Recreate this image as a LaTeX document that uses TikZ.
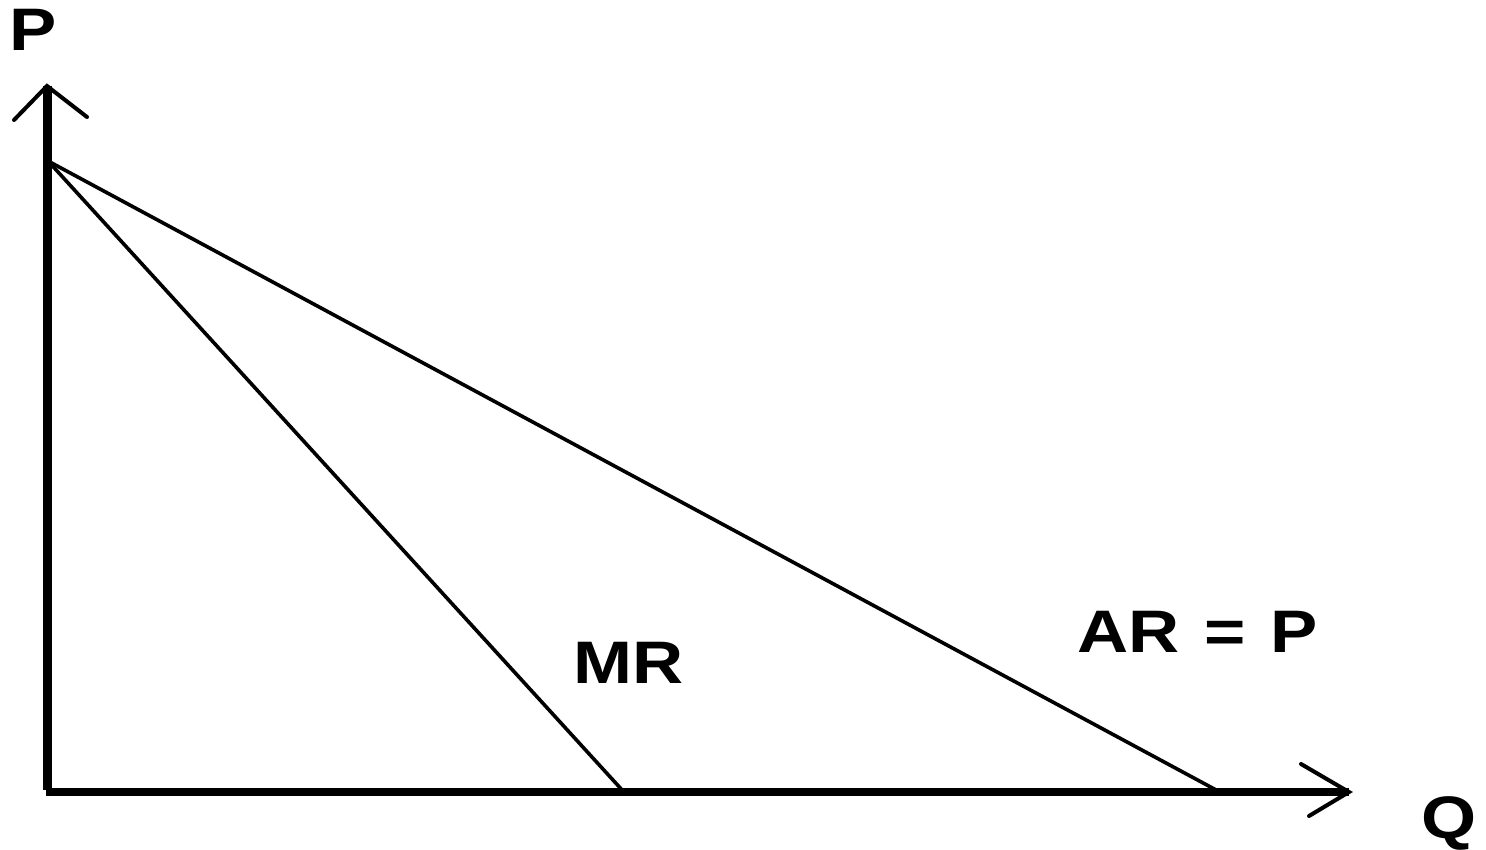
\documentclass[tikz,border=0pt]{standalone}
\usepackage{fontspec}
\setmainfont{Liberation Sans}
\begin{document}
\begin{tikzpicture}[x=1pt,y=-1pt,
  yaxisline/.style={line width=9pt},
  xaxisline/.style={line width=7.5pt},
  tipline/.style={line width=4pt,line cap=round},
  curveline/.style={line width=3.6pt},
  lbl/.style={font=\fontsize{60}{60}\bfseries\selectfont,inner sep=0pt,anchor=base west,xscale=1.18,transform shape}]
\useasboundingbox (0,0) rectangle (1486,849);
\coordinate (O) at (47,792);
\coordinate (Ytip) at (47,86);
\coordinate (Xtip) at (1349,792);
\coordinate (Yl) at (14,120);
\coordinate (Yr) at (87,117);
\coordinate (Xu) at (1301,764);
\coordinate (Xd) at (1309,816);
\coordinate (A) at (48,161);
\coordinate (MRend) at (623,791);
\coordinate (ARend) at (1218,791);
\draw[yaxisline] (47,790) -- (Ytip);
\draw[xaxisline] (46,792) -- (Xtip);
\draw[tipline] (Yl) -- (Ytip) -- (Yr);
\draw[tipline] (Xu) -- (Xtip) -- (Xd);
\draw[curveline] (A) -- (MRend);
\draw[curveline] (A) -- (ARend);
\node[lbl] (P) at (9,50) {P};
\node[lbl] (Q) at (1421,838) {Q};
\node[lbl] (MR) at (573,683) {MR};
\node[lbl] (AR) at (1077,652) {AR\hspace{0.35em}=\hspace{0.35em}P};
\end{tikzpicture}
\end{document}
